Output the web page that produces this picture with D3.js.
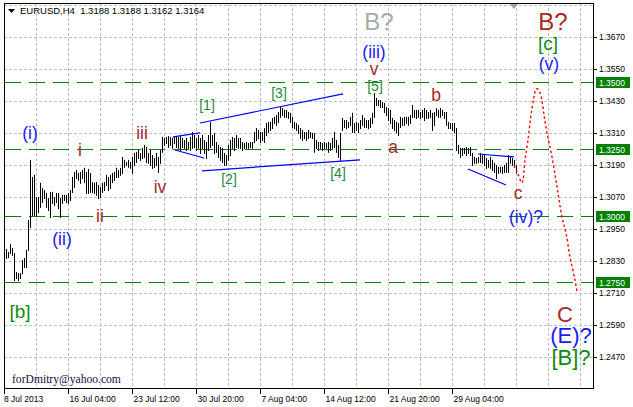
<!DOCTYPE html>
<html><head><meta charset="utf-8">
<script src="https://cdn.jsdelivr.net/npm/d3@7"></script>
<style>
html,body{margin:0;padding:0;background:#fff;}
svg{display:block;}
</style></head><body>
<svg id="c" width="633" height="407"></svg>
<script>
// ---- DATA ----
const title = "EURUSD,H4  1.3188 1.3188 1.3162 1.3164";
const highs = [
1.2875,1.2864,1.2894,1.2879,1.2860,1.2789,1.2785,1.2785,1.2834,1.2842,1.2872,1.2984,
1.3209,1.3145,1.3153,1.3070,1.3070,1.3123,1.3104,1.3096,1.3085,1.3066,1.3089,1.3089,
1.3070,1.3085,1.3085,1.3066,1.3078,1.3078,1.3078,1.3085,1.3096,1.3145,1.3164,1.3171,
1.3160,1.3164,1.3171,1.3179,1.3164,1.3175,1.3160,1.3126,1.3123,1.3126,1.3115,1.3108,
1.3123,1.3126,1.3153,1.3145,1.3153,1.3160,1.3164,1.3179,1.3171,1.3179,1.3220,1.3209,
1.3201,1.3209,1.3201,1.3220,1.3235,1.3239,1.3246,1.3235,1.3254,1.3265,1.3257,1.3235,
1.3246,1.3227,1.3216,1.3235,1.3220,1.3246,1.3295,1.3291,1.3295,1.3298,1.3295,1.3291,
1.3295,1.3295,1.3295,1.3302,1.3291,1.3283,1.3291,1.3276,1.3295,1.3313,1.3302,1.3291,
1.3302,1.3291,1.3302,1.3283,1.3276,1.3302,1.3351,1.3302,1.3310,1.3276,1.3265,1.3257,
1.3254,1.3235,1.3227,1.3265,1.3283,1.3295,1.3291,1.3302,1.3291,1.3291,1.3276,1.3272,
1.3276,1.3272,1.3276,1.3276,1.3313,1.3328,1.3321,1.3313,1.3313,1.3328,1.3347,1.3351,
1.3351,1.3366,1.3370,1.3377,1.3388,1.3407,1.3403,1.3396,1.3396,1.3388,1.3385,1.3370,
1.3351,1.3347,1.3340,1.3328,1.3321,1.3313,1.3313,1.3321,1.3313,1.3310,1.3310,1.3283,
1.3276,1.3276,1.3272,1.3276,1.3272,1.3276,1.3272,1.3291,1.3313,1.3283,1.3265,1.3310,
1.3366,1.3358,1.3358,1.3351,1.3370,1.3385,1.3347,1.3351,1.3347,1.3358,1.3377,1.3366,
1.3358,1.3358,1.3366,1.3385,1.3459,1.3441,1.3433,1.3433,1.3426,1.3422,1.3407,1.3403,
1.3396,1.3366,1.3358,1.3351,1.3347,1.3370,1.3366,1.3370,1.3370,1.3370,1.3377,1.3414,
1.3396,1.3396,1.3396,1.3388,1.3396,1.3403,1.3396,1.3388,1.3396,1.3385,1.3388,1.3403,
1.3396,1.3403,1.3396,1.3388,1.3388,1.3351,1.3347,1.3347,1.3347,1.3328,1.3265,1.3254,
1.3254,1.3254,1.3257,1.3254,1.3257,1.3235,1.3220,1.3216,1.3220,1.3235,1.3227,1.3227,
1.3216,1.3209,1.3220,1.3209,1.3198,1.3190,1.3183,1.3183,1.3183,1.3190,1.3198,1.3227,
1.3220,1.3216,1.3209,1.3188];
const lows = [
1.2842,1.2845,1.2860,1.2853,1.2759,1.2767,1.2759,1.2767,1.2785,1.2808,1.2808,1.2872,
1.2958,1.3003,1.3003,1.3003,1.3014,1.3033,1.3051,1.3066,1.3033,1.3021,1.2995,1.3048,
1.3040,1.3051,1.3029,1.2995,1.3048,1.3059,1.3051,1.3048,1.3059,1.3089,1.3108,1.3141,
1.3134,1.3123,1.3141,1.3126,1.3085,1.3085,1.3089,1.3089,1.3085,1.3078,1.3066,1.3070,
1.3089,1.3096,1.3115,1.3096,1.3104,1.3126,1.3134,1.3145,1.3145,1.3153,1.3160,1.3183,
1.3190,1.3183,1.3179,1.3160,1.3190,1.3201,1.3216,1.3209,1.3216,1.3220,1.3201,1.3198,
1.3190,1.3179,1.3183,1.3190,1.3164,1.3198,1.3239,1.3265,1.3272,1.3257,1.3265,1.3254,
1.3272,1.3257,1.3254,1.3246,1.3257,1.3254,1.3246,1.3254,1.3246,1.3254,1.3257,1.3246,
1.3254,1.3235,1.3254,1.3235,1.3216,1.3246,1.3257,1.3265,1.3235,1.3239,1.3220,1.3209,
1.3201,1.3190,1.3190,1.3209,1.3227,1.3254,1.3246,1.3257,1.3254,1.3254,1.3246,1.3254,
1.3254,1.3254,1.3257,1.3254,1.3276,1.3283,1.3291,1.3276,1.3283,1.3276,1.3302,1.3313,
1.3321,1.3328,1.3347,1.3340,1.3351,1.3370,1.3377,1.3370,1.3370,1.3366,1.3351,1.3332,
1.3328,1.3321,1.3310,1.3291,1.3283,1.3291,1.3283,1.3291,1.3295,1.3291,1.3239,1.3254,
1.3246,1.3254,1.3246,1.3254,1.3254,1.3239,1.3246,1.3254,1.3257,1.3239,1.3220,1.3209,
1.3321,1.3332,1.3328,1.3332,1.3340,1.3313,1.3313,1.3321,1.3313,1.3328,1.3340,1.3332,
1.3332,1.3328,1.3332,1.3347,1.3370,1.3414,1.3414,1.3407,1.3407,1.3388,1.3377,1.3358,
1.3347,1.3328,1.3321,1.3313,1.3302,1.3332,1.3340,1.3340,1.3347,1.3340,1.3347,1.3370,
1.3370,1.3366,1.3370,1.3366,1.3370,1.3358,1.3366,1.3366,1.3370,1.3321,1.3340,1.3377,
1.3370,1.3370,1.3377,1.3366,1.3340,1.3328,1.3328,1.3321,1.3313,1.3246,1.3235,1.3220,
1.3227,1.3235,1.3227,1.3235,1.3227,1.3190,1.3198,1.3198,1.3201,1.3201,1.3198,1.3190,
1.3179,1.3183,1.3179,1.3171,1.3164,1.3141,1.3160,1.3164,1.3160,1.3164,1.3164,1.3164,
1.3198,1.3190,1.3183,1.3162];

const priceTicks = [1.3670,1.3550,1.3430,1.3310,1.3190,1.3070,1.2950,1.2830,1.2710,1.2590,1.2470];
const levelLines = [1.3500,1.3250,1.3000,1.2750];
const timeLabels = ["8 Jul 2013","16 Jul 04:00","23 Jul 12:00","30 Jul 20:00","7 Aug 04:00","14 Aug 12:00","21 Aug 20:00","29 Aug 04:00"];
const timeLabelBars = [-1,31,63,95,127,159,191,223];
const gridBars = [15,31,47,63,79,95,111,127,143,159,175,191,207,223,239,255,271,287];

// trend lines: [bar1, price1, bar2, price2]
const trendLines = [
  [83.5,1.3295, 97,1.3310],
  [84.5,1.3246, 99,1.3216],
  [97,1.3347, 168.5,1.3456],
  [98,1.3168, 177,1.3209],
  [236,1.3231, 254,1.3220],
  [231,1.3175, 250,1.3115]
];
// projected path (bar index, price)
const projBars   = [254,256,258,259.5,261,262.5,264,265,266,267.5,269,270.5,273,275.5,278,280,282,284.5,285.5];
const projPrices = [1.3190,1.3156,1.3123,1.3209,1.3283,1.3377,1.3444,1.3474,1.3474,1.3448,1.3377,1.3310,1.3220,1.3108,1.2995,1.2935,1.2845,1.2759,1.2715];

// wave labels
const labelTexts  = ["(i)","(ii)","i","ii","iii","iv","[1]","[2]","[3]","[4]","[5]","v","(iii)","B?","a","b","c","(iv)?","B?","[c]","(v)","C","(E)?","[B]?","[b]"];
const labelBars   = [12,28,37,47,68,77,100.5,111.5,136.5,166,184.5,184,184,186.5,193.5,215,256,260,273.5,271,271.5,279.5,282.5,282.5,7];
const labelPrices = [1.3310,1.2913,1.3246,1.2999,1.3310,1.3108,1.3414,1.3138,1.3459,1.3160,1.3487,1.3548,1.3612,1.3725,1.3256,1.3452,1.3085,1.2995,1.3725,1.3643,1.3568,1.2630,1.2553,1.2471,1.2643];
const labelKinds  = ["blue","blue","brown","brown","brown","brown","gsmall","gsmall","gsmall","gsmall","gsmall","brown","blue","gray","brown","brown","brown","blue","brownBig","green","blue","brownC","blueBig","greenBig","green"];

const footer = "forDmitry@yahoo.com";

// ---- STYLES ----
const kindStyle = {
  blue:{fill:"#1a1aff",size:17.5},
  blueBig:{fill:"#1a1aff",size:22},
  brown:{fill:"#a52a2a",size:17.5},
  brownBig:{fill:"#a52a2a",size:24},
  brownC:{fill:"#a52a2a",size:22},
  gray:{fill:"#a9a9a9",size:24},
  gsmall:{fill:"#1f8a3a",size:14},
  green:{fill:"#108a10",size:19},
  greenBig:{fill:"#108a10",size:22}
};

const svg = d3.select("#c");
const L=4, R=593, T=3, B=388;
const x = d3.scaleLinear().domain([-1,293.5]).range([L,R]);
const y = d3.scaleLinear().domain([1.23551,1.37961]).range([B,T]);

const defs = svg.append("defs");
defs.append("clipPath").attr("id","clip").append("rect").attr("x",L).attr("y",T).attr("width",R-L).attr("height",B-T);

const plot = svg.append("g").attr("clip-path","url(#clip)");

// gray grid
plot.selectAll("line.hg").data(priceTicks.concat([1.3790])).enter().append("line")
  .attr("x1",L).attr("x2",R).attr("y1",d=>Math.round(y(d))+0.5).attr("y2",d=>Math.round(y(d))+0.5)
  .attr("stroke","#c0c0c0").attr("stroke-dasharray","3,2");
plot.selectAll("line.vg").data(gridBars).enter().append("line")
  .attr("y1",T).attr("y2",B).attr("x1",d=>Math.round(x(d))+0.5).attr("x2",d=>Math.round(x(d))+0.5)
  .attr("stroke","#c0c0c0").attr("stroke-dasharray","3,2");

// level lines
plot.selectAll("line.lv").data(levelLines).enter().append("line")
  .attr("x1",L+1).attr("x2",R).attr("y1",d=>Math.round(y(d))+0.5).attr("y2",d=>Math.round(y(d))+0.5)
  .attr("stroke","#008000").attr("stroke-width",1.2).attr("stroke-dasharray","16,8");

// bars
plot.selectAll("line.bar").data(highs).enter().append("line")
  .attr("x1",(d,i)=>Math.round(x(i))+0.5).attr("x2",(d,i)=>Math.round(x(i))+0.5)
  .attr("y1",d=>y(d)).attr("y2",(d,i)=>y(lows[i])+1)
  .attr("stroke","#000").attr("stroke-width",1);

// trend lines
plot.selectAll("line.tl").data(trendLines).enter().append("line")
  .attr("x1",d=>x(d[0])).attr("y1",d=>y(d[1])).attr("x2",d=>x(d[2])).attr("y2",d=>y(d[3]))
  .attr("stroke","#0000ff").attr("stroke-width",1.2);

// projection
const proj = projBars.map((b,i)=>[b,projPrices[i]]);
plot.append("path").datum(proj)
  .attr("d",d3.line().x(d=>x(d[0])).y(d=>y(d[1])).curve(d3.curveCatmullRom))
  .attr("fill","none").attr("stroke","#ff0000").attr("stroke-width",1.4).attr("stroke-dasharray","2.5,2.5");

// wave labels
plot.selectAll("text.wl").data(labelTexts).enter().append("text")
  .attr("x",(d,i)=>x(labelBars[i])).attr("y",(d,i)=>y(labelPrices[i]))
  .attr("text-anchor","middle").attr("dominant-baseline","central")
  .attr("font-family","'Liberation Sans',Arial,sans-serif")
  .attr("font-size",(d,i)=>kindStyle[labelKinds[i]].size)
  .attr("fill",(d,i)=>kindStyle[labelKinds[i]].fill)
  .text(d=>d);

// footer
plot.append("text").attr("x",x(3)).attr("y",y(1.2375))
  .attr("font-family","'Liberation Serif','Times New Roman',serif").attr("font-size",11.6)
  .attr("fill","#101040").text(footer);

// chart shift marker
svg.append("path").attr("d",`M${x(252)},${T+1} L${x(256)},${T+1} L${x(254)},${T+6} Z`).attr("fill","#a0a0a0");

// border
svg.append("rect").attr("x",L+0.5).attr("y",T+0.5).attr("width",R-L).attr("height",B-T)
  .attr("fill","none").attr("stroke","#000");

// title
svg.append("path").attr("d","M8,9 L15,9 L11.5,13 Z").attr("fill","#000");
svg.append("text").attr("x",20).attr("y",14).attr("font-family","'Liberation Sans',Arial,sans-serif")
  .attr("font-size",9.5).attr("fill","#000").attr("xml:space","preserve").style("white-space","pre").text(title);

// price axis
const axisFont = "'Liberation Sans',Arial,sans-serif";
const pa = svg.append("g");
pa.selectAll("line").data(priceTicks).enter().append("line")
  .attr("x1",R).attr("x2",R+4).attr("y1",d=>Math.round(y(d))+0.5).attr("y2",d=>Math.round(y(d))+0.5).attr("stroke","#000");
pa.selectAll("text").data(priceTicks).enter().append("text")
  .attr("x",R+6).attr("y",d=>y(d)).attr("dominant-baseline","central")
  .attr("font-family",axisFont).attr("font-size",8.5).attr("fill","#000")
  .text(d=>d.toFixed(4));
const lb = svg.append("g");
lb.selectAll("rect").data(levelLines).enter().append("rect")
  .attr("x",R+3).attr("y",d=>Math.round(y(d))-5).attr("width",34).attr("height",11).attr("fill","#008000");
lb.selectAll("text").data(levelLines).enter().append("text")
  .attr("x",R+6).attr("y",d=>Math.round(y(d))+0.5).attr("dominant-baseline","central")
  .attr("font-family",axisFont).attr("font-size",8.5).attr("fill","#fff")
  .text(d=>d.toFixed(4));

// time axis
const ta = svg.append("g");
ta.selectAll("line").data(timeLabelBars).enter().append("line")
  .attr("x1",d=>Math.round(x(d))+0.5).attr("x2",d=>Math.round(x(d))+0.5).attr("y1",B).attr("y2",B+6).attr("stroke","#000");
ta.selectAll("text").data(timeLabels).enter().append("text")
  .attr("x",(d,i)=>x(timeLabelBars[i])+(i===0?0:1.5)).attr("y",401.5)
  .attr("font-family",axisFont).attr("font-size",8.5).attr("fill","#000")
  .text(d=>d);
</script></body></html>
